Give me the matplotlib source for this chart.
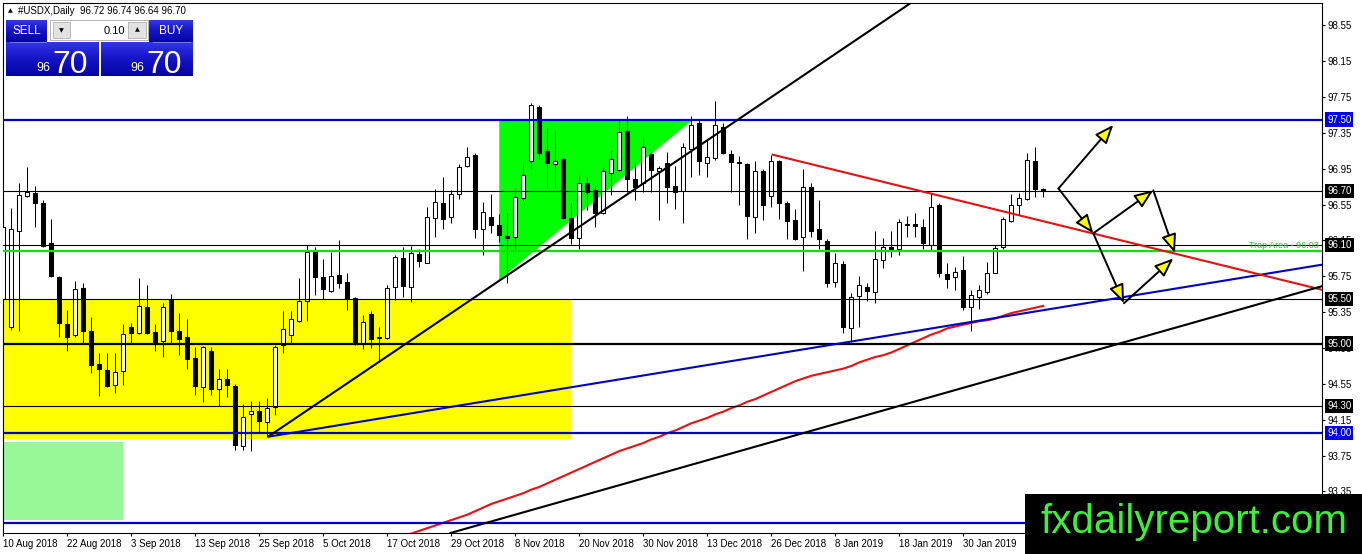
import matplotlib
matplotlib.use("Agg")
import matplotlib.pyplot as plt
import matplotlib.transforms as mtransforms
from matplotlib.patches import Rectangle, Polygon
from matplotlib.colors import LinearSegmentedColormap
import numpy as np

plt.rcParams['font.family'] = ['Liberation Sans', 'DejaVu Sans']

# ---------------- data ----------------
symbol = "#USDX,Daily"

opens = [95.50, 95.19, 96.26, 96.65, 96.68, 96.57, 96.12, 95.74, 95.22, 95.10,
         95.62, 95.14, 94.77, 94.70, 94.54, 94.69, 95.19, 95.12, 95.41, 95.13,
         95.03, 95.50, 95.14, 95.07, 94.84, 94.52, 94.92, 94.49, 94.60, 94.53,
         93.86, 94.21, 94.25, 94.12, 94.29, 94.98, 95.10, 95.25, 95.48, 96.02,
         95.74, 95.59, 95.77, 95.69, 95.51, 95.01, 95.33, 95.06, 95.06, 95.63,
         95.96, 95.63, 96.00, 95.90, 96.40, 96.57, 96.41, 96.67, 96.98, 97.10,
         96.28, 96.41, 96.32, 96.20, 96.19, 96.62, 97.04, 97.64, 97.15, 97.00,
         97.06, 96.40, 96.18, 96.79, 96.71, 96.46, 96.90, 96.94, 97.37, 96.84,
         96.79, 97.12, 96.93, 97.02, 96.76, 96.70, 97.17, 97.46, 97.02, 97.07,
         97.42, 97.12, 97.03, 97.00, 96.41, 96.93, 96.65, 97.04, 96.57, 96.38,
         96.19, 96.75, 96.28, 96.14, 95.69, 95.89, 95.17, 95.53, 95.63, 95.58,
         95.93, 96.08, 96.06, 96.33, 96.33, 96.30, 96.10, 96.55, 95.78, 95.74,
         95.82, 95.41, 95.52, 95.58, 95.79, 96.08, 96.37, 96.55, 96.61, 97.04,
         96.72]
highs = [96.46, 96.51, 96.79, 96.97, 96.76, 96.60, 96.39, 95.75, 95.37, 95.70,
         95.68, 95.30, 94.89, 94.89, 94.89, 95.22, 95.23, 95.73, 95.65, 95.22,
         95.45, 95.55, 95.34, 95.27, 94.96, 94.97, 94.96, 94.72, 94.72, 94.55,
         94.33, 94.36, 94.36, 94.39, 94.98, 95.36, 95.36, 95.73, 96.10, 96.08,
         95.94, 96.02, 96.16, 95.79, 95.52, 95.32, 95.36, 95.19, 95.65, 95.99,
         96.08, 96.09, 96.06, 96.52, 96.73, 96.86, 96.71, 97.00, 97.19, 97.13,
         96.58, 96.67, 96.45, 96.46, 96.74, 97.00, 97.68, 97.66, 97.41, 97.38,
         97.07, 96.57, 96.88, 96.86, 96.75, 96.97, 97.16, 97.50, 97.54, 97.02,
         97.31, 97.14, 96.98, 97.14, 96.98, 97.24, 97.54, 97.50, 97.28, 97.71,
         97.46, 97.16, 97.09, 97.02, 97.04, 96.95, 97.10, 97.05, 96.59, 96.50,
         96.95, 96.79, 96.60, 96.17, 96.01, 95.92, 95.56, 95.75, 95.68, 96.26,
         96.18, 96.26, 96.39, 96.42, 96.46, 96.39, 96.68, 96.57, 95.90, 95.85,
         95.98, 95.60, 95.65, 95.91, 96.10, 96.41, 96.67, 96.68, 97.13, 97.19,
         96.74]
lows = [95.47, 95.15, 95.14, 96.64, 96.30, 96.08, 95.74, 95.07, 94.92, 95.07,
        95.01, 94.67, 94.42, 94.52, 94.45, 94.54, 95.01, 95.11, 95.11, 94.92,
        94.85, 95.01, 94.87, 94.72, 94.43, 94.35, 94.43, 94.30, 94.40, 93.81,
        93.81, 93.80, 94.00, 93.96, 94.20, 94.89, 95.01, 95.24, 95.25, 95.54,
        95.50, 95.58, 95.62, 95.37, 94.98, 94.94, 94.95, 94.81, 95.05, 95.49,
        95.52, 95.46, 95.85, 95.90, 96.19, 96.28, 96.35, 96.61, 96.97, 96.18,
        95.99, 96.23, 96.13, 95.68, 96.06, 96.60, 96.95, 97.06, 96.75, 96.75,
        96.39, 96.11, 96.06, 96.49, 96.30, 96.45, 96.66, 96.93, 96.69, 96.60,
        96.69, 96.69, 96.38, 96.57, 96.50, 96.35, 96.86, 96.88, 96.86, 97.05,
        97.12, 96.69, 96.55, 96.17, 96.23, 96.38, 96.52, 96.39, 96.17, 96.16,
        95.81, 96.19, 96.06, 95.63, 95.63, 95.12, 95.02, 95.19, 95.48, 95.45,
        95.84, 95.97, 95.99, 96.19, 96.19, 96.06, 96.04, 95.74, 95.62, 95.60,
        95.37, 95.14, 95.39, 95.55, 95.79, 96.06, 96.36, 96.43, 96.60, 96.64,
        96.64]
closes = [96.30, 96.28, 96.66, 96.69, 96.57, 96.09, 95.75, 95.23, 95.07, 95.61,
          95.14, 94.76, 94.72, 94.53, 94.68, 95.11, 95.12, 95.42, 95.12, 95.01,
          95.41, 95.14, 95.05, 94.83, 94.53, 94.96, 94.49, 94.60, 94.54, 93.87,
          94.18, 94.25, 94.14, 94.28, 94.96, 95.16, 95.27, 95.48, 96.02, 95.74,
          95.61, 95.75, 95.68, 95.50, 95.00, 95.24, 95.05, 95.07, 95.62, 95.97,
          95.64, 96.01, 95.92, 96.41, 96.58, 96.39, 96.67, 96.97, 97.08, 96.28,
          96.47, 96.32, 96.21, 96.18, 96.64, 96.88, 97.66, 97.13, 97.02, 97.04,
          96.40, 96.18, 96.79, 96.69, 96.46, 96.93, 97.06, 97.36, 96.84, 96.75,
          97.19, 96.94, 96.96, 96.75, 96.69, 97.19, 97.44, 97.04, 97.08, 97.44,
          97.13, 97.03, 97.02, 96.42, 96.93, 96.55, 97.04, 96.57, 96.37, 96.17,
          96.75, 96.26, 96.17, 95.68, 95.90, 95.19, 95.52, 95.65, 95.59, 95.94,
          96.08, 96.06, 96.36, 96.32, 96.31, 96.12, 96.52, 95.79, 95.72, 95.80,
          95.41, 95.54, 95.60, 95.79, 96.07, 96.39, 96.55, 96.62, 97.05, 96.72,
          96.70]

# moving average (red curve), values from bar ma_first_bar onward
ma_first_bar = 50
ma_values = [92.85, 92.88, 92.91, 92.94, 92.97, 93.00, 93.03, 93.06, 93.09, 93.13,
             93.17, 93.21, 93.24, 93.27, 93.30, 93.33, 93.37, 93.40, 93.44, 93.48,
             93.52, 93.56, 93.60, 93.64, 93.68, 93.72, 93.76, 93.80, 93.83, 93.86,
             93.89, 93.93, 93.96, 94.00, 94.03, 94.07, 94.11, 94.14, 94.17, 94.21,
             94.24, 94.28, 94.31, 94.35, 94.38, 94.42, 94.46, 94.50, 94.54, 94.58,
             94.61, 94.64, 94.66, 94.68, 94.70, 94.72, 94.75, 94.79, 94.82, 94.85,
             94.87, 94.90, 94.94, 94.98, 95.02, 95.06, 95.10, 95.13, 95.17, 95.19,
             95.21, 95.23, 95.25, 95.26, 95.28, 95.31, 95.34, 95.36, 95.38, 95.40,
             95.42]

date_ticks = [0, 8, 16, 24, 32, 40, 48, 56, 64, 72, 80, 88, 96, 104, 112, 120]
date_labels = ["10 Aug 2018", "22 Aug 2018", "3 Sep 2018", "13 Sep 2018",
               "25 Sep 2018", "5 Oct 2018", "17 Oct 2018", "29 Oct 2018",
               "8 Nov 2018", "20 Nov 2018", "30 Nov 2018", "13 Dec 2018",
               "26 Dec 2018", "8 Jan 2019", "18 Jan 2019", "30 Jan 2019"]
price_ticks = [98.55, 98.15, 97.75, 97.35, 96.95, 96.55, 96.15, 95.75,
               95.35, 94.95, 94.55, 94.15, 93.75, 93.35]

levels = [97.50, 96.70, 96.10, 95.50, 95.00, 94.30, 94.00, 93.00]
level_colors = ['#0000c8', 'black', 'black', 'black', 'black', 'black', '#0000c8', '#0000c8']
level_box = ['#0000ee', 'black', 'black', 'black', 'black', 'black', '#0000ee', None]
level_widths = [1.6, 0.8, 0.8, 0.8, 1.6, 0.8, 1.6, 1.6]
trap_level = 96.03
trap_label = "Trap Area - 96.03"

yellow_zone = (-5, 70.96, 93.93, 95.50)   # x0, x1, y0, y1
green_zone = (-5, 14.96, 93.03, 93.90)
triangle = [(62.0, 97.50), (86.2, 97.50), (62.0, 95.71)]

trend_black_up = [(33.09, 93.96), (113.6, 98.81)]
trend_blue = [(33.09, 93.96), (164.84, 95.88)]
trend_black_low = [(56.05, 92.89), (164.84, 95.64)]
trend_red = [(96.05, 97.11), (164.84, 95.60)]

arrows = [((131.9, 96.73), (138.75, 97.44)),
          ((131.9, 96.73), (136.25, 96.23)),
          ((136.25, 96.23), (143.75, 96.71)),
          ((143.75, 96.71), (146.46, 96.01)),
          ((136.25, 96.23), (140.09, 95.45)),
          ((140.09, 95.45), (146.25, 95.95))]

# ---------------- figure ----------------
W, H = 1362, 554
fig = plt.figure(figsize=(W / 100, H / 100), dpi=100)
fig.patch.set_facecolor('white')

ax = fig.add_axes([2.7 / W, (H - 533) / H, (1322 - 2.7) / W, (533 - 3) / H])
ax.set_xlim(-0.075, 164.84)
ax.set_ylim(92.886, 98.800)
for s in ax.spines.values():
    s.set_linewidth(0.8)
    s.set_color('black')

# zones
yz = yellow_zone
ax.add_patch(Rectangle((yz[0], yz[2]), yz[1] - yz[0], yz[3] - yz[2],
                       facecolor='#ffff00', edgecolor='none', zorder=1))
gz = green_zone
ax.add_patch(Rectangle((gz[0], gz[2]), gz[1] - gz[0], gz[3] - gz[2],
                       facecolor='#98f898', edgecolor='none', zorder=1))
ax.add_patch(Polygon(triangle, closed=True, facecolor='#00ff00', edgecolor='none', zorder=1))

# candles
n = len(opens)
xs = np.arange(n)
o = np.array(opens); c = np.array(closes); hi = np.array(highs); lo = np.array(lows)
ax.vlines(xs, lo, hi, color='black', lw=0.75, zorder=3)
up = c >= o
body_bottom = np.minimum(o, c)
body_h = np.maximum(np.abs(c - o), 0.004)
ax.bar(xs[up], body_h[up], bottom=body_bottom[up], width=0.55,
       color='white', edgecolor='black', linewidth=0.75, zorder=3.2)
ax.bar(xs[~up], body_h[~up], bottom=body_bottom[~up], width=0.55,
       color='black', edgecolor='black', linewidth=0.75, zorder=3.2)

# moving average
ma_x = np.arange(ma_first_bar, ma_first_bar + len(ma_values))
ax.plot(ma_x, ma_values, color='#e81010', lw=1.5, zorder=4)

# horizontal levels
for lv, col, lw in zip(levels, level_colors, level_widths):
    ax.axhline(lv, color=col, lw=lw, zorder=4)
ax.axhline(trap_level, color='#10e010', lw=1.6, zorder=4)

# trendlines (rays)
def ray(p0, p1, color):
    x0, y0 = p0; x1, y1 = p1
    slope = (y1 - y0) / (x1 - x0)
    xe = 200.0
    ax.plot([x0, xe], [y0, y0 + slope * (xe - x0)], color=color, lw=1.5,
            zorder=4.5, solid_capstyle='butt')

ray(trend_black_up[0], trend_black_up[1], 'black')
ray(trend_blue[0], trend_blue[1], '#0000c8')
ray(trend_red[0], trend_red[1], '#e81010')
ax.axline(trend_black_low[0], trend_black_low[1], color='black', lw=1.5, zorder=4.5)

# arrows
for (p0, p1) in arrows:
    ax.annotate('', xy=p1, xytext=p0,
                arrowprops=dict(arrowstyle='-|>,head_length=0.95,head_width=0.38',
                                mutation_scale=12, fc='#ffff00', ec='black', lw=1.4,
                                shrinkA=0, shrinkB=0), zorder=6)

# axes ticks
ax.yaxis.tick_right()
ax.set_yticks(price_ticks)
ax.set_yticklabels([f"{v:.2f}" for v in price_ticks])
ax.set_xticks(date_ticks)
ax.set_xticklabels(date_labels, ha='left')
ax.tick_params(axis='y', direction='out', length=2.5, width=0.8, pad=1.5,
               labelsize=7, colors='black')
ax.tick_params(axis='x', direction='out', length=2.5, width=0.8, pad=1.5,
               labelsize=7, colors='black')

# price labels on the right axis
blend = mtransforms.blended_transform_factory(ax.transAxes, ax.transData)
for lv, bc in zip(levels, level_box):
    if bc is None:
        continue
    ax.annotate(f"{lv:.2f}", xy=(1, lv), xycoords=blend, xytext=(5, 0),
                textcoords='offset pixels', ha='left', va='center', fontsize=7,
                color='white', annotation_clip=False, zorder=10,
                bbox=dict(boxstyle='square,pad=0.22', fc=bc, ec='none'))
ax.annotate(trap_label, xy=(1, trap_level), xycoords=blend, xytext=(-3, 1),
            textcoords='offset pixels', ha='right', va='bottom', fontsize=6.5,
            color='#30c030', zorder=6)

# ---------------- overlay (panel, header, watermark) ----------------
ov = fig.add_axes([0, 0, 1, 1], zorder=10)
ov.axis('off')

blue_cmap = LinearSegmentedColormap.from_list('pb', ['#3434ea', '#1414c4', '#0404a4'])

def grad_box(x0, y0, x1, y1):
    g = np.linspace(0, 1, 64).reshape(-1, 1)
    ov.imshow(g, extent=(x0, x1, y1, y0), cmap=blue_cmap, aspect='auto',
              origin='upper', interpolation='bilinear', zorder=1)

grad_box(6, 20, 47, 42)
grad_box(6, 42, 99, 76)
grad_box(149, 20, 193, 42)
grad_box(101, 42, 193, 76)
ov.plot([10, 46], [42, 42], color='#7878f0', lw=0.7, zorder=2)
ov.plot([153, 190], [42, 42], color='#7878f0', lw=0.7, zorder=2)

ov.add_patch(Rectangle((50, 20), 98, 20, facecolor='white', edgecolor='#b4b4b4', lw=0.7, zorder=2))
ov.add_patch(Rectangle((53, 22), 17, 16, facecolor='#e2e2e2', edgecolor='#b0b0b0', lw=0.6, zorder=3))
ov.add_patch(Rectangle((128, 22), 18, 16, facecolor='#e2e2e2', edgecolor='#b0b0b0', lw=0.6, zorder=3))
ov.text(61.5, 30.5, "▼", fontsize=4.5, ha='center', va='center', color='black',
        family=['DejaVu Sans'], zorder=4)
ov.text(137, 30, "▲", fontsize=4.5, ha='center', va='center', color='black',
        family=['DejaVu Sans'], zorder=4)
ov.text(125, 30.5, "0.10", fontsize=8, ha='right', va='center', color='black', zorder=4)

last_close = closes[-1]
big = f"{last_close:.2f}".split('.')
ov.text(26.5, 31, "SELL", fontsize=8.5, ha='center', va='center', color='white', zorder=4)
ov.text(171, 31, "BUY", fontsize=8.5, ha='center', va='center', color='white', zorder=4)
ov.text(50, 68, big[0], fontsize=9, ha='right', va='center', color='white', zorder=4)
ov.text(52, 73, big[1], fontsize=23, ha='left', va='baseline', color='white', zorder=4)
ov.text(144, 68, big[0], fontsize=9, ha='right', va='center', color='white', zorder=4)
ov.text(146, 73, big[1], fontsize=23, ha='left', va='baseline', color='white', zorder=4)

# header line
ov.text(10.5, 11, "▲", fontsize=4.5, ha='center', va='center', color='black',
        family=['DejaVu Sans'], zorder=4)
ov.text(18, 11, f"{symbol}  {opens[-1]:.2f} {highs[-1]:.2f} {lows[-1]:.2f} {closes[-1]:.2f}",
        fontsize=7, ha='left', va='center', color='black', zorder=4)

# watermark
ov.add_patch(Rectangle((1025, 494), 337, 60, facecolor='black', edgecolor='none', zorder=5))
ov.text(1040, 533, "fxdailyreport.com", fontsize=29, ha='left', va='baseline',
        color='#3cf03c', zorder=6)

ov.set_xlim(0, W)
ov.set_ylim(H, 0)

fig.savefig("out.png", dpi=100)
